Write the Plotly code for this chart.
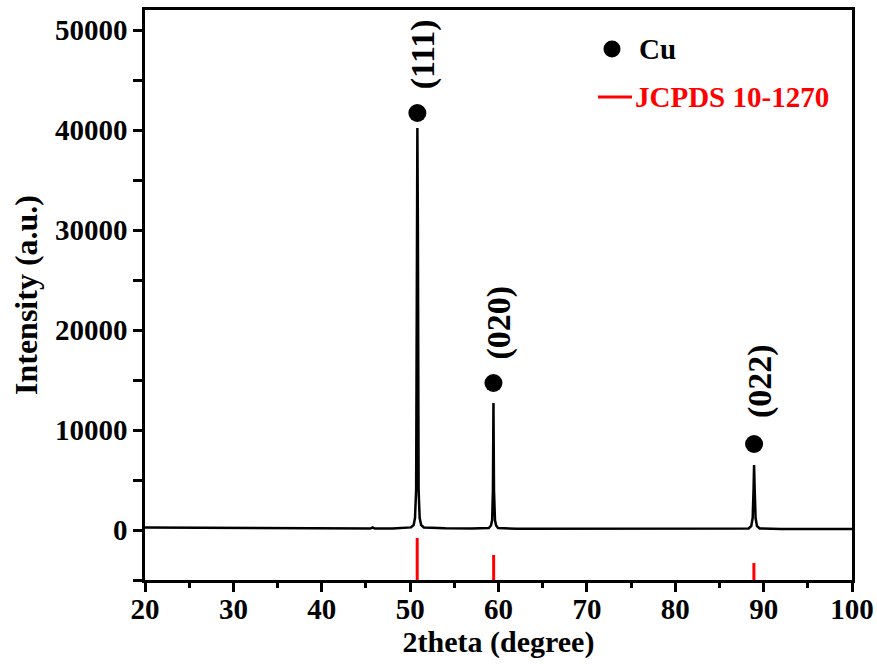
import plotly.graph_objects as go

# ---- data ----
two_theta = [20, 25, 30, 35, 40, 44, 45.5, 45.75, 46.0, 48, 50.1, 50.4, 50.55, 50.68, 50.76,
             50.82, 50.88, 50.96, 51.08, 51.25, 51.55, 54, 57, 58.9, 59.15, 59.28, 59.37, 59.43,
             59.49, 59.6, 59.73, 59.95, 62, 70, 80, 86, 88.3, 88.6, 88.76, 88.86, 88.92, 88.99,
             89.09, 89.25, 89.55, 92, 96, 100]
intensity = [250, 230, 210, 190, 170, 150, 150, 260, 150, 150, 260, 500, 1200, 4000, 30000,
             40200, 30000, 4000, 1200, 500, 260, 180, 160, 200, 450, 1000, 4000, 12700,
             4000, 1000, 450, 200, 130, 120, 110, 110, 150, 400, 1200, 4000, 6500, 4000,
             1200, 400, 150, 110, 100, 100]

peak_pos = [50.82, 59.43, 88.92]
peak_marker_y = [41700, 14700, 8600]
peak_labels = ["(111)", "(020)", "(022)"]
peak_label_y = [47600, 20800, 14900]

ref_pos = [50.8, 59.45, 88.9]
ref_top = [-800, -2500, -3300]
ref_base = -5000

x_ticks = [20, 30, 40, 50, 60, 70, 80, 90, 100]
x_ticktext = ["20", "30", "40", "50", "60", "70", "80", "90", "100"]
y_ticks = [0, 10000, 20000, 30000, 40000, 50000]
y_ticktext = ["0", "10000", "20000", "30000", "40000", "50000"]

FONT = "Liberation Serif"

fig = go.Figure()

fig.add_trace(go.Scatter(x=two_theta, y=intensity, mode="lines",
                         line=dict(color="black", width=2.5), showlegend=False))

rx, ry = [], []
for p, t in zip(ref_pos, ref_top):
    rx += [p, p, None]
    ry += [ref_base, t, None]
fig.add_trace(go.Scatter(x=rx, y=ry, mode="lines", line=dict(color="#ff0000", width=3),
                         showlegend=False))

fig.add_trace(go.Scatter(x=peak_pos, y=peak_marker_y, mode="markers",
                         marker=dict(color="black", size=18), showlegend=False))

for p, ly, lab in zip(peak_pos, peak_label_y, peak_labels):
    fig.add_annotation(x=p, y=ly, text=lab, textangle=-90, showarrow=False,
                       xshift=6, font=dict(family=FONT, size=34, color="black", weight="bold"))

# legend (drawn manually)
L, R, T, B = 145, 852, 10, 580
W, H = R - L, B - T
def px(x):
    return (x - L) / W
def py(y):
    return (B - y) / H

fig.add_shape(type="circle", xref="paper", yref="paper",
              x0=px(603.5), x1=px(620.5), y0=py(57.5), y1=py(40.5),
              fillcolor="black", line=dict(color="black", width=0))
fig.add_shape(type="line", xref="paper", yref="paper",
              x0=px(598), x1=px(632), y0=py(97), y1=py(97),
              line=dict(color="#ff0000", width=3))
fig.add_annotation(xref="paper", yref="paper", x=px(637), y=py(49), text="Cu",
                   xanchor="left", yanchor="middle", showarrow=False,
                   font=dict(family=FONT, size=29, color="black", weight="bold"))
fig.add_annotation(xref="paper", yref="paper", x=px(633), y=py(97), text="JCPDS 10-1270",
                   xanchor="left", yanchor="middle", showarrow=False,
                   font=dict(family=FONT, size=29, color="#ff0000", weight="bold"))

axis_common = dict(showline=True, linecolor="black", linewidth=2.5, mirror=True,
                   ticks="outside", tickcolor="black", tickwidth=2.5, ticklen=9,
                   showgrid=False, zeroline=False, automargin=False,
                   tickfont=dict(family=FONT, size=29, color="black", weight="bold"))

fig.update_xaxes(range=[20, 100], tickvals=x_ticks, ticktext=x_ticktext,
                 ticklabelstandoff=-8,
                 minor=dict(dtick=5, tick0=20, ticks="outside", ticklen=5, tickwidth=2.5,
                            tickcolor="black", showgrid=False),
                 title=dict(text="2theta (degree)", standoff=2,
                            font=dict(family=FONT, size=30, color="black", weight="bold")),
                 **axis_common)
fig.update_yaxes(range=[-5000, 52000], tickvals=y_ticks, ticktext=y_ticktext,
                 minor=dict(dtick=5000, tick0=0, ticks="outside", ticklen=9, tickwidth=2.5,
                            tickcolor="black", showgrid=False),
                 title=dict(text="Intensity (a.u.)", standoff=8,
                            font=dict(family=FONT, size=32, color="black", weight="bold")),
                 **axis_common)

fig.update_layout(width=877, height=664, plot_bgcolor="white", paper_bgcolor="white",
                  margin=dict(l=L, r=877 - R, t=T, b=664 - B), showlegend=False)

fig.write_html("out.html", config={"displayModeBar": False},
               post_script="document.body.style.margin='0';")
